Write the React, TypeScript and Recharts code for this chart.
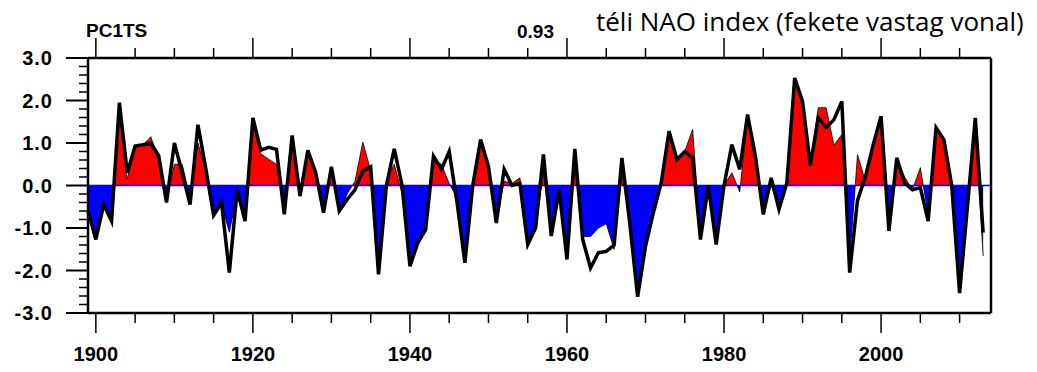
import React from 'react';
import { ComposedChart, Area, Line, XAxis, YAxis, ReferenceLine } from 'recharts';

// winter years
const years = [
  1899, 1900, 1901, 1902, 1903, 1904, 1905, 1906, 1907, 1908,
  1909, 1910, 1911, 1912, 1913, 1914, 1915, 1916, 1917, 1918,
  1919, 1920, 1921, 1922, 1923, 1924, 1925, 1926, 1927, 1928,
  1929, 1930, 1931, 1932, 1933, 1934, 1935, 1936, 1937, 1938,
  1939, 1940, 1941, 1942, 1943, 1944, 1945, 1946, 1947, 1948,
  1949, 1950, 1951, 1952, 1953, 1954, 1955, 1956, 1957, 1958,
  1959, 1960, 1961, 1962, 1963, 1964, 1965, 1966, 1967, 1968,
  1969, 1970, 1971, 1972, 1973, 1974, 1975, 1976, 1977, 1978,
  1979, 1980, 1981, 1982, 1983, 1984, 1985, 1986, 1987, 1988,
  1989, 1990, 1991, 1992, 1993, 1994, 1995, 1996, 1997, 1998,
  1999, 2000, 2001, 2002, 2003, 2004, 2005, 2006, 2007, 2008,
  2009, 2010, 2011, 2012, 2013,
];

// PC1 time series (red / blue fill)
const pc1 = [
  -0.5, -1.2, -0.4, -0.8, 1.7, 0.15, 0.9, 0.95, 1.15, 0.6,
  -0.35, 0.5, 0.5, -0.3, 1.0, 0.35, -0.7, -0.45, -1.1, -0.2,
  -0.8, 1.5, 0.75, 0.62, 0.5, -0.5, 1.1, -0.1, 0.8, 0.35,
  -0.5, 0.35, -0.65, -0.2, 0.1, 1.02, 0.35, -1.8, 0.1, 0.5,
  -0.2, -1.85, -1.3, -1.0, 0.6, 0.5, 0.05, -0.3, -1.7, 0.1,
  1.05, 0.4, -0.8, 0.1, 0.05, 0.18, -1.3, -0.95, 0.3, -1.1,
  -0.2, -1.7, 0.5, -1.2, -1.2, -1.0, -0.9, -1.5, 0.3, -0.9,
  -2.5, -1.3, -0.5, 0.0, 1.2, 0.6, 0.8, 1.32, -1.2, -0.1,
  -1.3, 0.0, 0.3, -0.15, 1.6, 0.7, -0.6, 0.0, -0.5, 0.1,
  2.5, 1.9, 0.5, 1.83, 1.83, 0.95, 1.2, -1.8, 0.73, 0.1,
  0.9, 1.6, -1.0, 0.65, 0.2, -0.1, 0.42, -0.7, 1.3, 1.05,
  -0.1, -2.4, -0.5, 1.5, -1.66,
];

// winter NAO index (thick black line)
const nao = [
  -0.6, -1.27, -0.45, -0.84, 1.95, 0.3, 0.93, 0.96, 1.0, 0.7,
  -0.4, 1.0, 0.3, -0.45, 1.43, 0.4, -0.7, -0.4, -2.05, -0.1,
  -0.84, 1.59, 0.83, 0.9, 0.85, -0.68, 1.18, -0.25, 0.83, 0.3,
  -0.64, 0.44, -0.6, -0.33, -0.1, 0.34, 0.44, -2.09, 0.0, 0.86,
  0.0, -1.9, -1.35, -1.04, 0.69, 0.38, 0.8, -0.4, -1.82, 0.0,
  1.08, 0.45, -0.88, 0.38, 0.0, 0.05, -1.39, -1.0, 0.73, -1.19,
  -0.1, -1.74, 0.86, -1.27, -1.94, -1.58, -1.55, -1.4, 0.65, -0.9,
  -2.62, -1.43, -0.64, 0.06, 1.28, 0.61, 0.8, 0.65, -1.27, 0.0,
  -1.39, 0.0, 0.96, 0.38, 1.67, 0.69, -0.68, 0.18, -0.56, 0.06,
  2.53, 1.98, 0.47, 1.6, 1.36, 1.55, 1.98, -2.05, -0.35, 0.2,
  0.96, 1.63, -1.07, 0.65, 0.06, -0.1, -0.05, -0.84, 1.36, 1.08,
  0.0, -2.53, -0.5, 1.59, -1.11,
];

const xTicks = [
  1900, 1905, 1910, 1915, 1920, 1925, 1930, 1935, 1940, 1945, 1950, 1955,
  1960, 1965, 1970, 1975, 1980, 1985, 1990, 1995, 2000, 2005, 2010,
];
const yTicks = [
  -3, -2.8, -2.6, -2.4, -2.2, -2, -1.8, -1.6, -1.4, -1.2, -1, -0.8, -0.6, -0.4, -0.2,
  0, 0.2, 0.4, 0.6, 0.8, 1, 1.2, 1.4, 1.6, 1.8, 2, 2.2, 2.4, 2.6, 2.8, 3,
];

const data = years.map((year, i) => ({ year, pc: pc1[i], nao: nao[i] }));

const pcMax = Math.max(...pc1);
const pcMin = Math.min(...pc1);
const zeroOff = pcMax / (pcMax - pcMin);

const FONT = '"Liberation Sans", Arial, sans-serif';

const isMajorY = (v: number) => Math.abs(v - Math.round(v)) < 1e-6;

const BottomTick = (props: any) => {
  const { x, y, payload } = props;
  const major = payload.value % 20 === 0;
  return (
    <g>
      <line x1={x} x2={x} y1={y} y2={y + (major ? 20 : 10)} stroke="#000" strokeWidth={1.5} />
      {major && (
        <text x={x} y={y + 48} textAnchor="middle" fontFamily={FONT} fontWeight="bold" fontSize={20} fill="#000">
          {payload.value}
        </text>
      )}
    </g>
  );
};

const TopTick = (props: any) => {
  const { x, y, payload } = props;
  const major = payload.value % 20 === 0;
  return <line x1={x} x2={x} y1={y} y2={y - (major ? 20 : 10)} stroke="#000" strokeWidth={1.5} />;
};

const LeftTick = (props: any) => {
  const { x, y, payload } = props;
  const major = isMajorY(payload.value);
  return (
    <g>
      <line x1={x} x2={x - (major ? 22 : 9)} y1={y} y2={y} stroke="#000" strokeWidth={major ? 2 : 1.5} />
      {major && (
        <text x={x - 35} y={y} dy={7} textAnchor="end" fontFamily={FONT} fontWeight="bold" fontSize={20} letterSpacing={1} fill="#000">
          {payload.value.toFixed(1)}
        </text>
      )}
    </g>
  );
};

const RightTick = (props: any) => {
  const { x, y, payload } = props;
  const major = isMajorY(payload.value);
  return <line x1={x} x2={x + (major ? 21 : 9)} y1={y} y2={y} stroke="#000" strokeWidth={major ? 2 : 1.5} />;
};

const axisLine = { stroke: '#000', strokeWidth: 2.5 };

export default function App() {
  return (
    <div style={{ position: 'relative', width: 1021, height: 356 }}>
      <ComposedChart width={1021} height={356} data={data} margin={{ top: 0, right: 0, bottom: 0, left: 0 }}>
        <defs>
          <linearGradient id="splitFill" x1="0" y1="0" x2="0" y2="1">
            <stop offset={zeroOff} stopColor="#ff0000" />
            <stop offset={zeroOff} stopColor="#0000ff" />
          </linearGradient>
        </defs>
        <XAxis
          xAxisId="b"
          dataKey="year"
          type="number"
          domain={[1899, 2014]}
          ticks={xTicks}
          interval={0}
          height={51}
          tickSize={0}
          tickMargin={0}
          tickLine={false}
          axisLine={axisLine}
          tick={<BottomTick />}
        />
        <XAxis
          xAxisId="t"
          orientation="top"
          dataKey="year"
          type="number"
          domain={[1899, 2014]}
          ticks={xTicks}
          interval={0}
          height={50}
          tickSize={0}
          tickMargin={0}
          tickLine={false}
          axisLine={axisLine}
          tick={<TopTick />}
        />
        <YAxis
          yAxisId="l"
          type="number"
          domain={[-3, 3]}
          ticks={yTicks}
          interval={0}
          width={80}
          tickSize={0}
          tickMargin={0}
          tickLine={false}
          axisLine={axisLine}
          tick={<LeftTick />}
        />
        <YAxis
          yAxisId="r"
          orientation="right"
          type="number"
          domain={[-3, 3]}
          ticks={yTicks}
          interval={0}
          width={38}
          tickSize={0}
          tickMargin={0}
          tickLine={false}
          axisLine={axisLine}
          tick={<RightTick />}
        />
        <Area
          xAxisId="b"
          yAxisId="l"
          type="linear"
          dataKey="pc"
          baseValue={0}
          fill="url(#splitFill)"
          fillOpacity={1}
          stroke="#000"
          strokeWidth={0.8}
          isAnimationActive={false}
        />
        <ReferenceLine xAxisId="b" yAxisId="l" y={0} stroke="#0000ff" strokeWidth={1.5} />
        <Line
          xAxisId="b"
          yAxisId="l"
          type="linear"
          dataKey="nao"
          stroke="#000"
          strokeWidth={3.5}
          dot={false}
          isAnimationActive={false}
        />
      </ComposedChart>
      <div style={{ position: 'absolute', left: 78, top: 12, fontFamily: FONT, fontWeight: 'bold', fontSize: 19 }}>PC1TS</div>
      <div style={{ position: 'absolute', left: 509, top: 13, fontFamily: FONT, fontWeight: 'bold', fontSize: 19 }}>0.93</div>
      <div style={{ position: 'absolute', left: 588, top: -5, fontFamily: '"Open Sans", sans-serif', fontSize: 26, whiteSpace: 'nowrap' }}>
        téli NAO index (fekete vastag vonal)
      </div>
    </div>
  );
}
